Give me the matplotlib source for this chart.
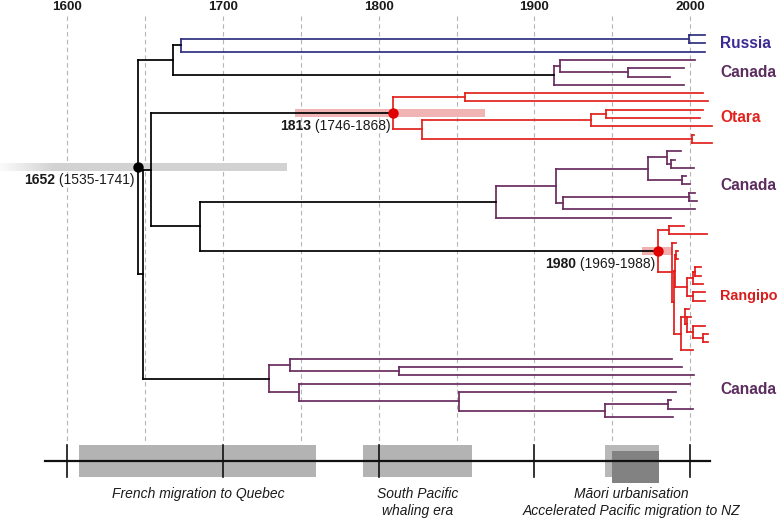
import numpy as np
import matplotlib
matplotlib.use("Agg")
import matplotlib.pyplot as plt

plt.rcParams['font.family'] = ['Liberation Sans', 'DejaVu Sans']

# ---------------- data ----------------
tick_years = [1600, 1700, 1800, 1900, 2000]
grid_years = [1600, 1650, 1700, 1750, 1800, 1850, 1900, 1950, 2000]

# tree: a tip is its end year, an internal node is (year, [children])
russia = (1673.0, [(1999.1, [2009.4, 2009.4]), 2009.4])
canada_top = (1912.5, [(1916.3, [2003.0, (1959.8, [1995.9, 1986.9])]), 1995.9])
otara = (1809.4, [(1855.6, [2008.3, 2011.5]),
                  (1828.0, [(1936.0, [(1945.6, [2008.3, 2006.1]), 2013.7]),
                            (2000.8, [2002.5, 2013.7])])])
canada_mid = (1875.3, [(1913.8, [(1973.0, [(1985.2, [1994.0, (1987.4, [1990.1, 2002.3])]),
                                           (1994.8, [1997.2, 1999.7])]),
                                 (1918.5, [(1999.3, [2003.0, 2004.4]), 2003.0])]),
                       1987.4])
rangipo = (1979.4, [(1986.5, [1996.1, 2010.5]),
                    (1988.0, [1990.5,
                              (1989.5, [(1990.2, [(1990.5, [1991.8, 1991.8]),
                                                  (1997.6, [(2001.8, [(2003.0, [2006.6, 2006.6]), 2008.3]),
                                                            (2001.8, [2009.4, 2009.4])])]),
                                        (1994.1, [(1996.6, [1999.0,
                                                            (1998.0, [2000.5,
                                                                      (2001.8, [2009.4, (2008.3, [2011.1, 2011.1])])])]),
                                                  2001.8])])])])
canada_low = (1729.8, [(1743.1, [1988.4, (1813.0, [1994.4, 2002.3])]),
                       (1749.1, [1999.7, (1851.7, [1990.6, (1945.2, [(1985.4, [1987.4, 2001.5]), 1989.0])])])])

clades = {"russia": russia, "canada_top": canada_top, "otara": otara,
          "canada_mid": canada_mid, "rangipo": rangipo, "canada_low": canada_low}
backbone = (1645.4, [(1668.0, ["russia", "canada_top"]),
                     (1649.0, [(1653.7, ["otara", (1685.1, ["canada_mid", "rangipo"])]),
                               "canada_low"])])

clade_label = {"russia": "Russia", "canada_top": "Canada", "otara": "Otara",
               "canada_mid": "Canada", "rangipo": "Rangipo", "canada_low": "Canada"}

# dated nodes
node_ref = ["root", "otara", "rangipo"]
node_year = ["1652", "1813", "1980"]
hpd_lo = [1535, 1746, 1969]
hpd_hi = [1741, 1868, 1988]

# historical events
event_start = [1608, 1790, 1945, 1950]
event_end = [1760, 1860, 1980, 1980]
event_text = ["French migration to Quebec", "South Pacific\nwhaling era",
              "Māori urbanisation\nAccelerated Pacific migration to NZ"]
event_text_x = [1684, 1825, 1962]

# ---------------- style ----------------
line_col = {"russia": "#2f2f80", "canada_top": "#6a2b5e", "otara": "#e0221c",
            "canada_mid": "#6a2b5e", "rangipo": "#e01c1c", "canada_low": "#6a2b5e"}
label_col = {"russia": "#3d2b94", "canada_top": "#5b2c5e", "otara": "#e3221d",
             "canada_mid": "#5b2c5e", "rangipo": "#d81e1c", "canada_low": "#5b2c5e"}
label_dy = {"russia": 0, "canada_top": 0, "otara": 0, "canada_mid": 1,
            "rangipo": 8, "canada_low": 2}
label_fs = {"russia": 11.2, "canada_top": 11.2, "otara": 11.2, "canada_mid": 11.2,
            "rangipo": 10.4, "canada_low": 11.2}
dot_col = {"root": "black", "otara": "#e00000", "rangipo": "#e00000"}
bar_col = {"root": "#d2d2d2", "otara": "#f0b4b4", "rangipo": "#f0b0b0"}

W, H = 784, 521
fig = plt.figure(figsize=(W / 100, H / 100), dpi=100)
ax = fig.add_axes([0, 0, 1, 1])
px_per_year = 1.5583
x0 = 1600 - 67 / px_per_year
ax.set_xlim(x0, x0 + W / px_per_year)
ax.set_ylim(H, 0)
ax.axis("off")

TIP0, TIP_DY = 35.0, 8.3
tip_counter = [0]
segs = []          # (x0, y0, x1, y1, color)
positions = {}
clade_tips = {}


def draw(node, parent_x, parent_color, color, name=None):
    if isinstance(node, str):
        start = tip_counter[0]
        y = draw(clades[node], parent_x, parent_color, line_col[node], name=node)
        clade_tips[node] = (start, tip_counter[0] - 1)
        return y
    if isinstance(node, tuple):
        x, children = node
        ys = [draw(c, x, color, color) for c in children]
        y = 0.5 * (ys[0] + ys[-1])
        segs.append((x, ys[0], x, ys[-1], color))
        if name is not None:
            positions[name] = (x, y)
    else:
        x = node
        y = TIP0 + TIP_DY * tip_counter[0]
        tip_counter[0] += 1
    segs.append((parent_x, y, x, y, parent_color))
    return y


ry = draw(backbone, backbone[0], "black", "black", name="root")

# grid
for g in grid_years:
    ax.plot([g, g], [16, 442], color="#b5b5b5", lw=0.8, ls=(0, (4, 3)), zorder=1)

# HPD bars
for ref, lo, hi in zip(node_ref, hpd_lo, hpd_hi):
    nx, ny = positions[ref]
    ax.barh(ny, hi - lo, left=lo, height=8, color=bar_col[ref], zorder=2, lw=0)
# fade on left side of root bar
nx, ny = positions["root"]
grad = np.ones((1, 200, 4))
grad[0, :, 3] = np.linspace(0.92, 0.0, 200)
ax.imshow(grad, extent=[x0, 1592, ny + 4, ny - 4], aspect="auto", zorder=2.5,
          interpolation="bilinear")
ax.set_xlim(x0, x0 + W / px_per_year)
ax.set_ylim(H, 0)

# tree segments
for (xa, ya, xb, yb, c) in segs:
    ax.plot([xa, xb], [ya, yb], color=c, lw=1.25, solid_capstyle="projecting", zorder=3)

# node dots and labels
for ref, yr, lo, hi in zip(node_ref, node_year, hpd_lo, hpd_hi):
    nx, ny = positions[ref]
    ax.plot(nx, ny, "o", color=dot_col[ref], ms=7.5, zorder=5, mec="none")
    t = ax.annotate(" (%d-%d)" % (lo, hi), xy=(nx, ny), xytext=(-3, -13),
                    textcoords="offset pixels", ha="right", va="center",
                    fontsize=10, color="#1a1a1a", zorder=6)
    ax.annotate(yr, xy=(0, 0.5), xycoords=t, ha="right", va="center",
                fontsize=10, fontweight="bold", color="#1a1a1a", zorder=6)

# clade labels
for key, (a, b) in clade_tips.items():
    ymid = TIP0 + TIP_DY * 0.5 * (a + b) + label_dy[key]
    ax.text(2019.2, ymid, clade_label[key], color=label_col[key], fontsize=label_fs[key],
            fontweight="bold", ha="left", va="center", zorder=6)

# top tick labels
for t in tick_years:
    ax.text(t, 7, str(t), ha="center", va="center", fontsize=9.7,
            fontweight="bold", color="#1a1a1a")

# timeline
ax.barh(460.8, event_end[0] - event_start[0], left=event_start[0], height=32,
        color="#b3b3b3", lw=0, zorder=2)
ax.barh(460.8, event_end[1] - event_start[1], left=event_start[1], height=32,
        color="#b3b3b3", lw=0, zorder=2)
ax.barh(460.8, event_end[2] - event_start[2], left=event_start[2], height=32,
        color="#b8b8b8", lw=0, zorder=2)
ax.barh(466.8, event_end[3] - event_start[3], left=event_start[3], height=32,
        color="#828282", lw=0, zorder=2.2)
ax.plot([1585.8, 2012.6], [460.8, 460.8], color="#111111", lw=1.6, zorder=4)
for t in tick_years:
    ax.plot([t, t], [445, 477], color="#111111", lw=1.2, zorder=4)

for txt, tx in zip(event_text, event_text_x):
    ax.text(tx, 487, txt, ha="center", va="top", fontsize=10, style="italic",
            color="#1a1a1a", linespacing=1.25)

fig.savefig("out.png", dpi=100)
